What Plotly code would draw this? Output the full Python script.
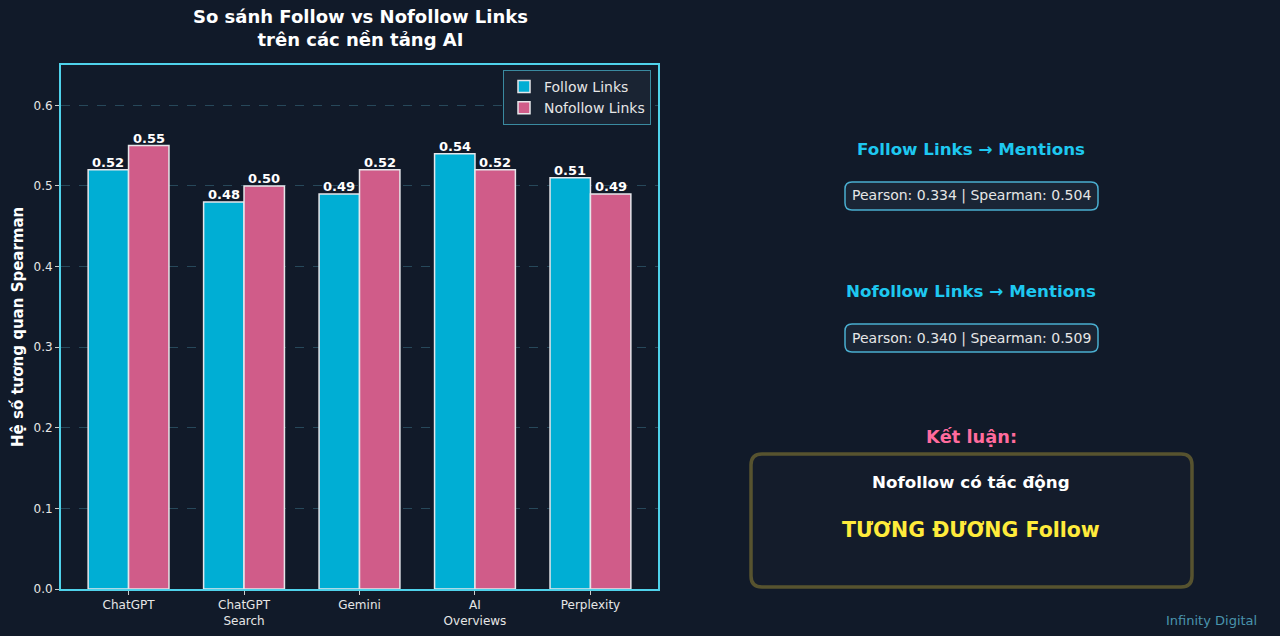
import plotly.graph_objects as go

W, H = 1280, 636

platforms = ["ChatGPT", "ChatGPT<br>Search", "Gemini", "AI<br>Overviews", "Perplexity"]
follow_vals = [0.52, 0.48, 0.49, 0.54, 0.51]
nofollow_vals = [0.55, 0.50, 0.52, 0.52, 0.49]
series_names = ["Follow Links", "Nofollow Links"]
y_ticks = [0.0, 0.1, 0.2, 0.3, 0.4, 0.5, 0.6]

BG = "#111a29"
FOLLOW_C = "#00aed4"
NOFOLLOW_C = "#d05c89"
FRAME_C = "#4fd2ea"

def px(x):
    return x / W

def py(y):
    return 1 - y / H

fig = go.Figure()
for name, vals, col in [(series_names[0], follow_vals, FOLLOW_C), (series_names[1], nofollow_vals, NOFOLLOW_C)]:
    fig.add_trace(go.Bar(
        x=platforms, y=vals, name=name,
        marker=dict(color=col, line=dict(color="#e6e6ea", width=1.5)),
    ))

# value labels above bars
BAR_PX = 0.35 * 597 / 5.17
for vals, sign in [(follow_vals, -1), (nofollow_vals, 1)]:
    for cat, v in zip(platforms, vals):
        fig.add_annotation(
            x=cat, y=v, xref="x", yref="y", text=f"<b>{v:.2f}</b>",
            showarrow=False, xanchor="center", yanchor="bottom",
            xshift=sign * BAR_PX / 2, yshift=-2,
            font=dict(size=13, color="white", family="DejaVu Sans"))

fig.update_layout(
    width=W, height=H,
    margin=dict(l=0, r=0, t=0, b=0, autoexpand=False),
    paper_bgcolor=BG, plot_bgcolor=BG,
    font=dict(family="DejaVu Sans", color="#e6e6e6"),
    barmode="group", bargap=0.3, bargroupgap=0,
    showlegend=True,
    legend=dict(
        x=px(651), y=py(70), xanchor="right", yanchor="top",
        bgcolor="#1a2433", bordercolor="#3a8aa0", borderwidth=1,
        font=dict(size=14, color="#e6e6e6", family="DejaVu Sans"),
        tracegroupgap=0,
    ),
    xaxis=dict(
        domain=[px(61), px(658)], range=[-0.585, 4.585], automargin=False,
        showline=True, linecolor=FRAME_C, linewidth=2, mirror=True,
        ticks="outside", tickcolor="#cccccc", ticklen=4,
        tickfont=dict(size=12, color="#e6e6e6"), showgrid=False,
    ),
    yaxis=dict(
        domain=[py(589), py(65)], range=[0, 0.65], automargin=False,
        showline=True, linecolor=FRAME_C, linewidth=2, mirror=True,
        ticks="outside", tickcolor="#cccccc", ticklen=4,
        tickvals=y_ticks, ticktext=[f"{v:.1f}" for v in y_ticks],
        tickfont=dict(size=12, color="#e6e6e6"),
        showgrid=True, gridcolor="#27485a", griddash="dash", gridwidth=1,
        zeroline=False,
    ),
)

def ann(text, x, y, size, color, bold=True, **kw):
    fig.add_annotation(
        text=f"<b>{text}</b>" if bold else text,
        x=px(x), y=py(y), xref="paper", yref="paper",
        showarrow=False, xanchor=kw.pop("xanchor", "center"), yanchor="middle",
        font=dict(size=size, color=color, family="DejaVu Sans"), **kw)

# Title
ann("So sánh Follow vs Nofollow Links<br>trên các nền tảng AI", 360, 28, 18, "#ffffff")
# Y-axis title
ann("Hệ số tương quan Spearman", 17, 327, 15, "#ffffff", textangle=-90)

def rrect(x0, y0, x1, y1, r, line_c, fill_c, lw):
    p = (f"M {px(x0+r)},{py(y0)} L {px(x1-r)},{py(y0)} Q {px(x1)},{py(y0)} {px(x1)},{py(y0+r)} "
         f"L {px(x1)},{py(y1-r)} Q {px(x1)},{py(y1)} {px(x1-r)},{py(y1)} "
         f"L {px(x0+r)},{py(y1)} Q {px(x0)},{py(y1)} {px(x0)},{py(y1-r)} "
         f"L {px(x0)},{py(y0+r)} Q {px(x0)},{py(y0)} {px(x0+r)},{py(y0)} Z")
    fig.add_shape(type="path", path=p, xref="paper", yref="paper",
                  line=dict(color=line_c, width=lw), fillcolor=fill_c, layer="below")

# Right panel
ann("Follow Links → Mentions", 971, 149, 16.7, "#1ec8f0")
rrect(845, 182, 1098, 210, 7, "#4aaed0", "#1a2535", 1.5)
ann("Pearson: 0.334 | Spearman: 0.504", 971, 196, 14, "#e6e6e6", bold=False)

ann("Nofollow Links → Mentions", 971, 291, 16.7, "#1ec8f0")
rrect(845, 324, 1098, 352, 7, "#4aaed0", "#1a2535", 1.5)
ann("Pearson: 0.340 | Spearman: 0.509", 971, 338, 14, "#e6e6e6", bold=False)

ann("Kết luận:", 971, 436, 17.8, "#ff6b9d")
rrect(751, 454, 1192, 587, 11, "#57532f", "#141c2b", 3.5)
ann("Nofollow có tác động", 971, 482, 16.7, "#ffffff")
ann("TƯƠNG ĐƯƠNG Follow", 971, 530, 20.5, "#ffeb3b")

ann("Infinity Digital", 1259, 620, 13, "#4a94ad", bold=False, xanchor="right")

fig.write_html("out.html")
